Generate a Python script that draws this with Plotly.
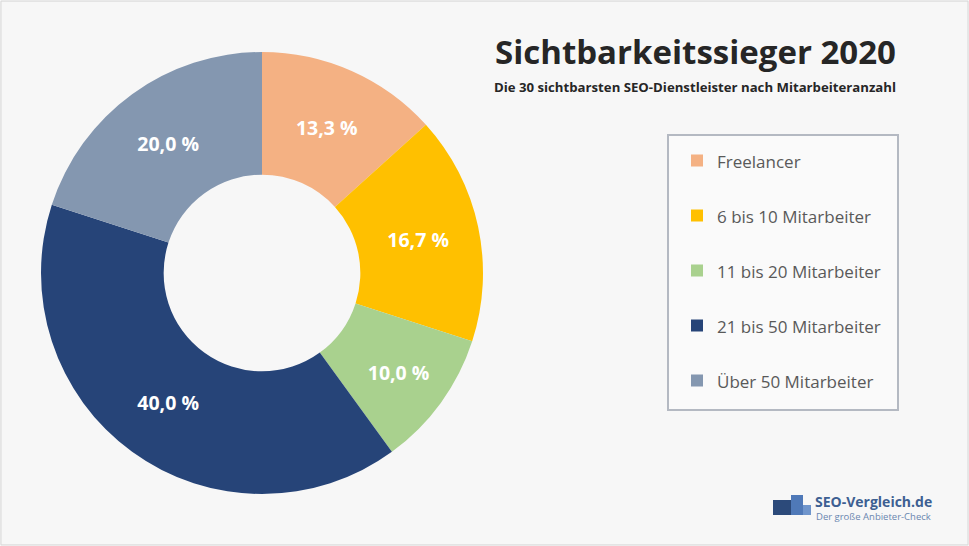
import plotly.graph_objects as go

categories = ["Freelancer", "6 bis 10 Mitarbeiter", "11 bis 20 Mitarbeiter",
              "21 bis 50 Mitarbeiter", "Über 50 Mitarbeiter"]
shares = [13.3, 16.7, 10.0, 40.0, 20.0]
colors = ["#F4B183", "#FFC000", "#A9D18E", "#264478", "#8497B0"]

W, H = 969, 546
text_labels = [f"{v:.1f} %".replace(".", ",") for v in shares]
legend_labels = ["<span style='font-size:17px'>" + c + "</span><br>\u00a0" for c in categories]

fig = go.Figure(go.Pie(
    labels=legend_labels,
    values=shares,
    text=text_labels,
    texttemplate="%{text}",
    textposition="inside",
    insidetextorientation="horizontal",
    textfont=dict(family="Open Sans", size=19.5, color="white", weight="bold"),
    marker=dict(colors=colors, line=dict(width=0)),
    hole=0.445,
    sort=False,
    direction="clockwise",
    rotation=0,
    hoverinfo="skip",
    domain=dict(x=[41 / W, 483 / W], y=[1 - 494 / H, 1 - 52 / H]),
))

shapes = [
    # outer frame
    dict(type="rect", xref="paper", yref="paper", x0=0.001, x1=0.999, y0=0.002, y1=0.998,
         line=dict(color="#d6d6d6", width=1), fillcolor="rgba(0,0,0,0)", layer="below"),
    # legend box
    dict(type="rect", xref="paper", yref="paper", x0=668 / W, x1=898 / W,
         y0=1 - 410 / H, y1=1 - 135 / H,
         line=dict(color="#b4b9c2", width=2), fillcolor="rgba(255,255,255,0.35)", layer="below"),
    # logo podium
    dict(type="rect", xref="paper", yref="paper", x0=773 / W, x1=791 / W,
         y0=1 - 515 / H, y1=1 - 500 / H, line=dict(width=0), fillcolor="#2c4a7a"),
    dict(type="rect", xref="paper", yref="paper", x0=791 / W, x1=803 / W,
         y0=1 - 515 / H, y1=1 - 495 / H, line=dict(width=0), fillcolor="#4f79b8"),
    dict(type="rect", xref="paper", yref="paper", x0=803 / W, x1=811 / W,
         y0=1 - 515 / H, y1=1 - 505 / H, line=dict(width=0), fillcolor="#6f95cc"),
]

annotations = [
    dict(text="Sichtbarkeitssieger 2020", xref="paper", yref="paper",
         x=898 / W, y=1 - 51 / H, xanchor="right", yanchor="middle", showarrow=False,
         font=dict(family="Open Sans", size=33, color="#262626", weight="bold")),
    dict(text="Die 30 sichtbarsten SEO-Dienstleister nach Mitarbeiteranzahl", xref="paper", yref="paper",
         x=898 / W, y=1 - 87 / H, xanchor="right", yanchor="middle", showarrow=False,
         font=dict(family="Open Sans", size=13.2, color="#262626", weight="bold")),
    dict(text="SEO-Vergleich.de", xref="paper", yref="paper",
         x=813 / W, y=1 - 501 / H, xanchor="left", yanchor="middle", showarrow=False,
         font=dict(family="Open Sans", size=14, color="#3d5f92", weight="bold")),
    dict(text="Der große Anbieter-Check", xref="paper", yref="paper",
         x=814 / W, y=1 - 516 / H, xanchor="left", yanchor="middle", showarrow=False,
         font=dict(family="Open Sans", size=9.5, color="#6a86b0")),
]

fig.update_layout(
    width=W, height=H,
    margin=dict(l=0, r=0, t=0, b=0),
    paper_bgcolor="#f7f7f7",
    plot_bgcolor="#f7f7f7",
    showlegend=True,
    legend=dict(
        x=677 / W, y=1 - 141 / H, xanchor="left", yanchor="top",
        font=dict(family="Open Sans", size=20, color="#595959"),
        bgcolor="rgba(0,0,0,0)", borderwidth=0, valign="top",
        itemclick=False, itemdoubleclick=False,
    ),
    shapes=shapes,
    annotations=annotations,
)

fig.write_html("out.html", config={"displayModeBar": False},
               post_script="document.body.style.margin='0px';")
